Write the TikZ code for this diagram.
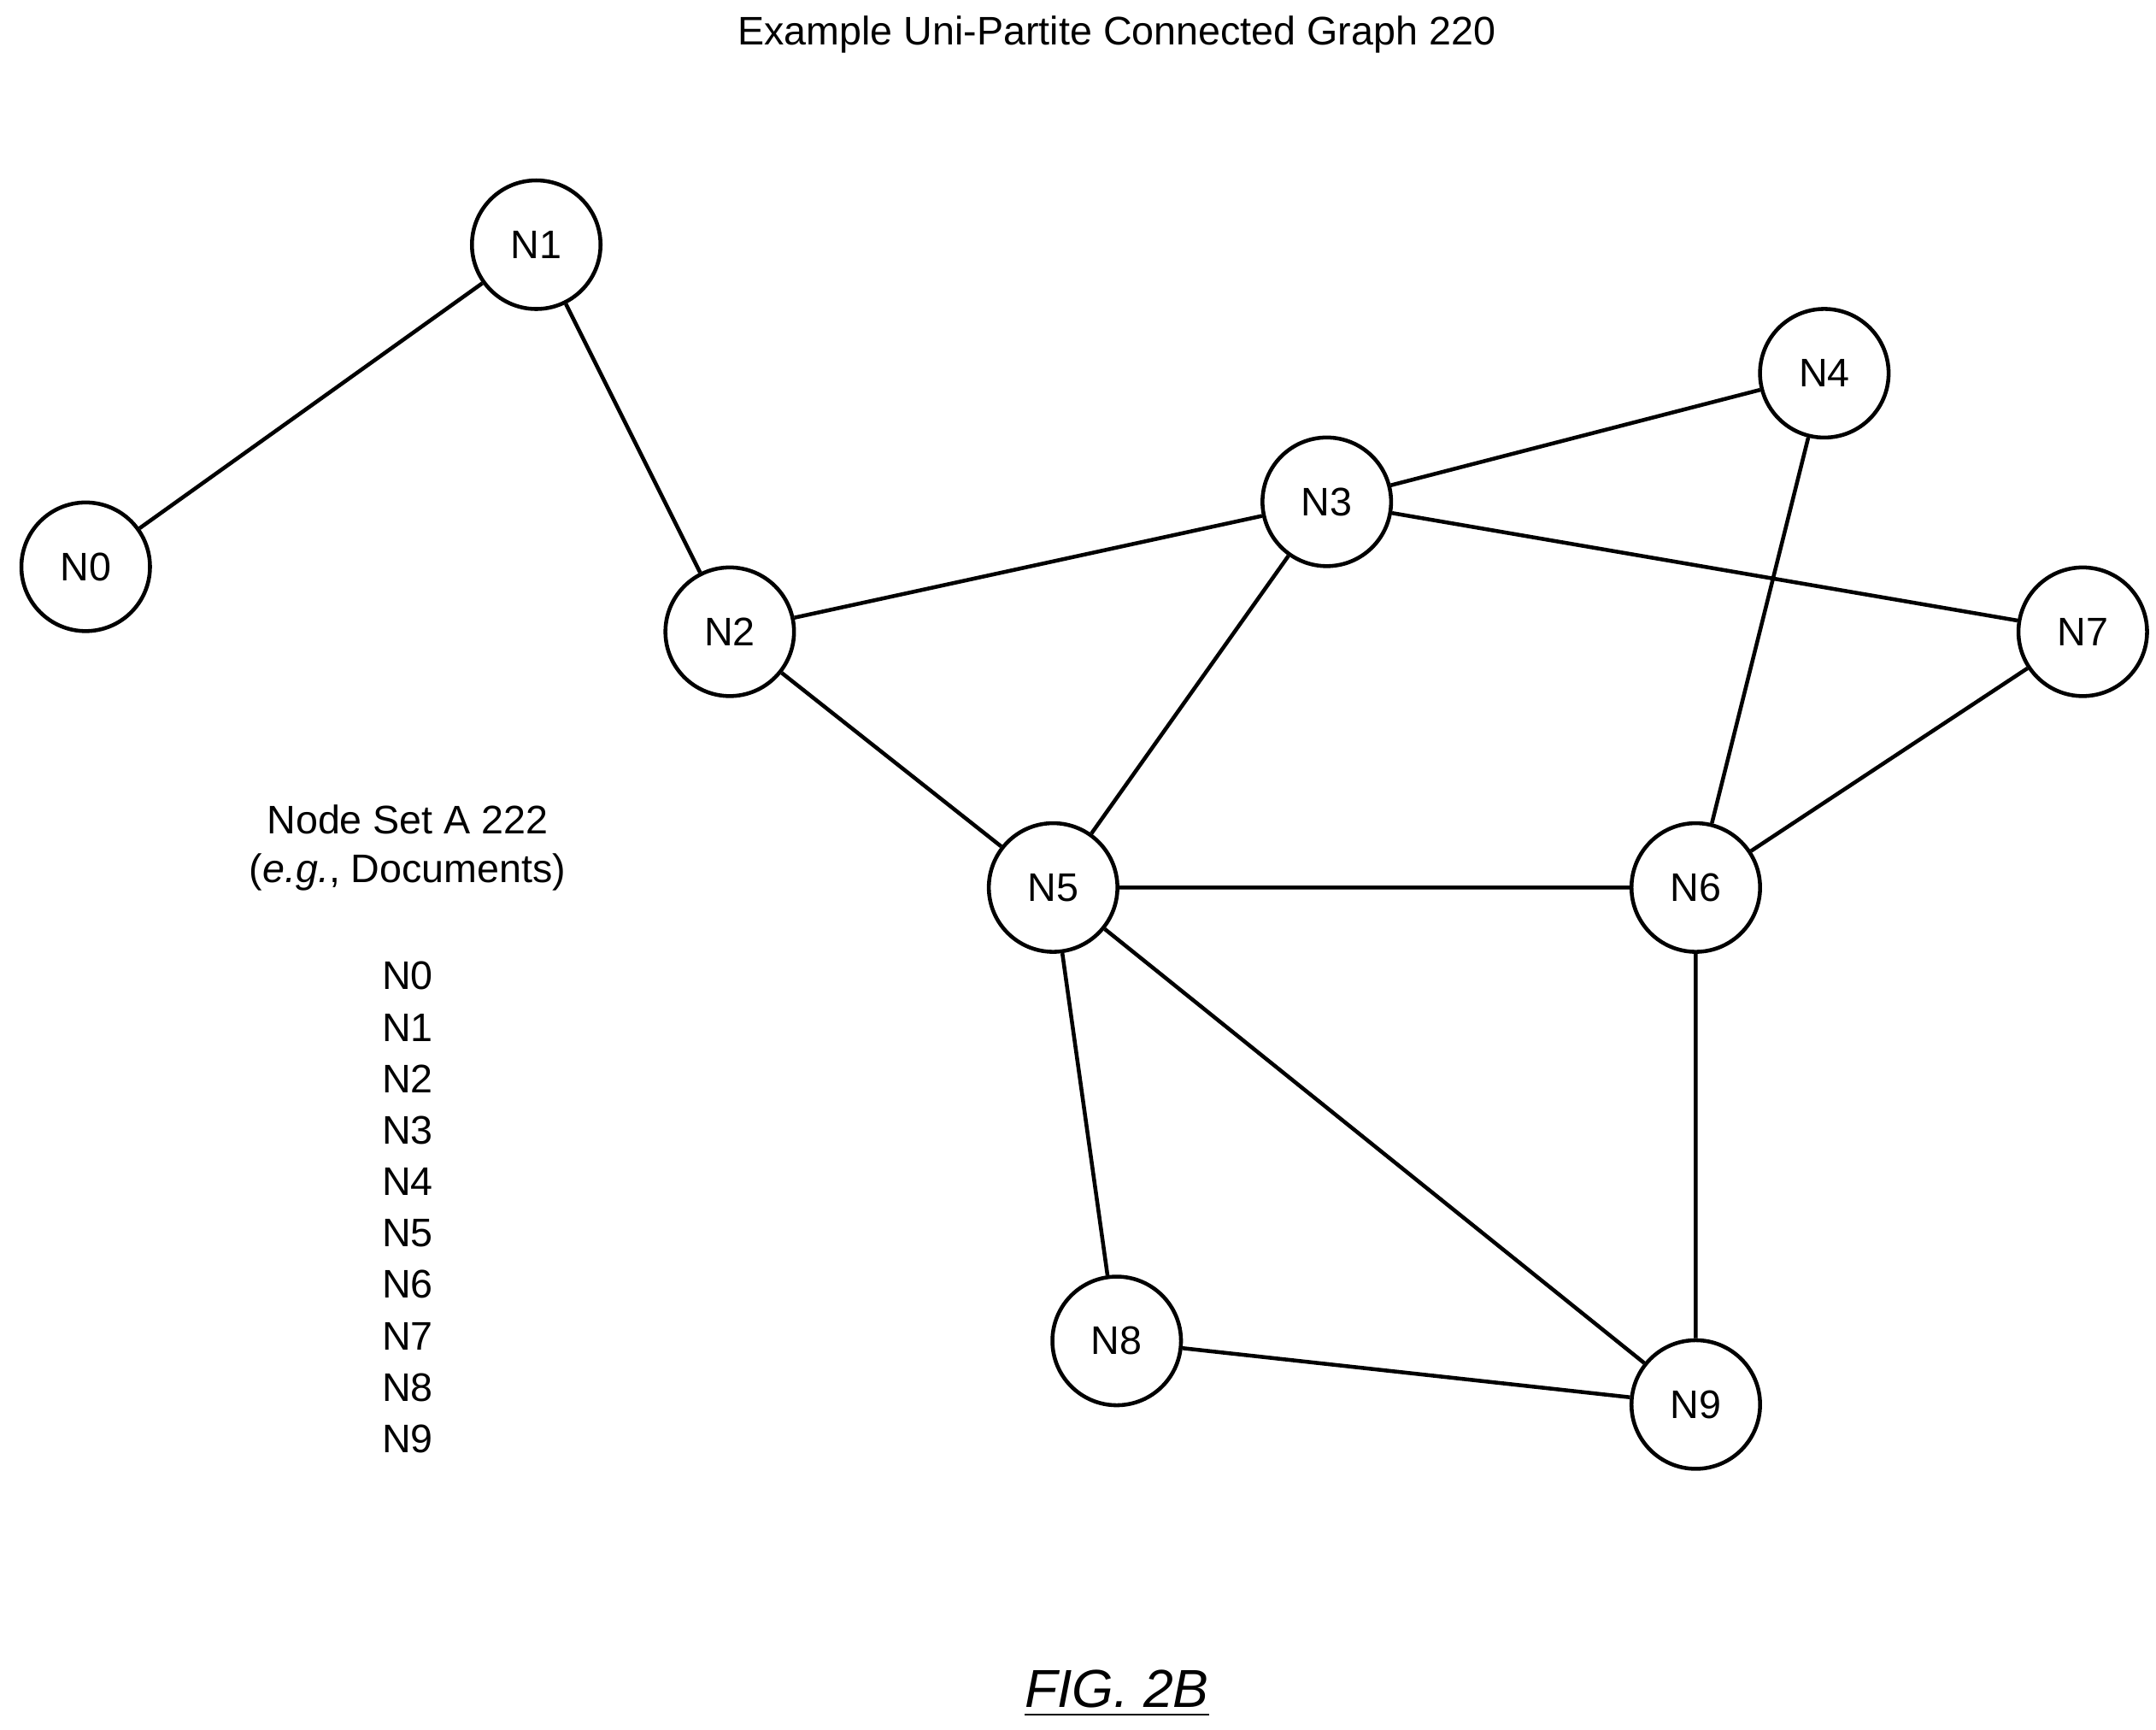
\documentclass[tikz,border=0pt]{standalone}
\usepackage{fontspec}
\setmainfont{Liberation Sans}
\usepackage{tikz}

\begin{document}
\begin{tikzpicture}[x=0.01cm, y=-0.01cm, font=\fontsize{8.2pt}{10pt}\selectfont]
\useasboundingbox (0,0) rectangle (1560,1251);

\node (title) at (808,25) {Example Uni-Partite Connected Graph 220};

\node[draw, circle, thick, minimum size=0.93cm, inner sep=0pt] (0) at (62,410) {N0};
\node[draw, circle, thick, minimum size=0.93cm, inner sep=0pt] (1) at (388,177) {N1};
\node[draw, circle, thick, minimum size=0.93cm, inner sep=0pt] (2) at (528,457) {N2};
\node[draw, circle, thick, minimum size=0.93cm, inner sep=0pt] (3) at (960,363) {N3};
\node[draw, circle, thick, minimum size=0.93cm, inner sep=0pt] (4) at (1320,270) {N4};
\node[draw, circle, thick, minimum size=0.93cm, inner sep=0pt] (5) at (762,642) {N5};
\node[draw, circle, thick, minimum size=0.93cm, inner sep=0pt] (6) at (1227,642) {N6};
\node[draw, circle, thick, minimum size=0.93cm, inner sep=0pt] (7) at (1507,457) {N7};
\node[draw, circle, thick, minimum size=0.93cm, inner sep=0pt] (8) at (808,970) {N8};
\node[draw, circle, thick, minimum size=0.93cm, inner sep=0pt] (9) at (1227,1016) {N9};

\path[draw, thick] (0) -- (1) -- (2) -- (3) -- (4) -- (6) -- (7) -- (3);
\path[draw, thick] (2) -- (5) -- (3);
\path[draw, thick] (5) -- (6) -- (9) -- (8) -- (5) -- (9);

\node (setname) at (295,593) {Node Set A 222};
\node (setnote) at (295,631) {(\textit{e.g.}, Documents)};
\foreach \i in {0,...,9}
  \node (list\i) at (295,706+37.2*\i) {N\i};

\node[font=\fontsize{11pt}{13pt}\selectfont\itshape] (fig) at (808,1225) {\underline{FIG. 2B}};

\end{tikzpicture}
\end{document}
